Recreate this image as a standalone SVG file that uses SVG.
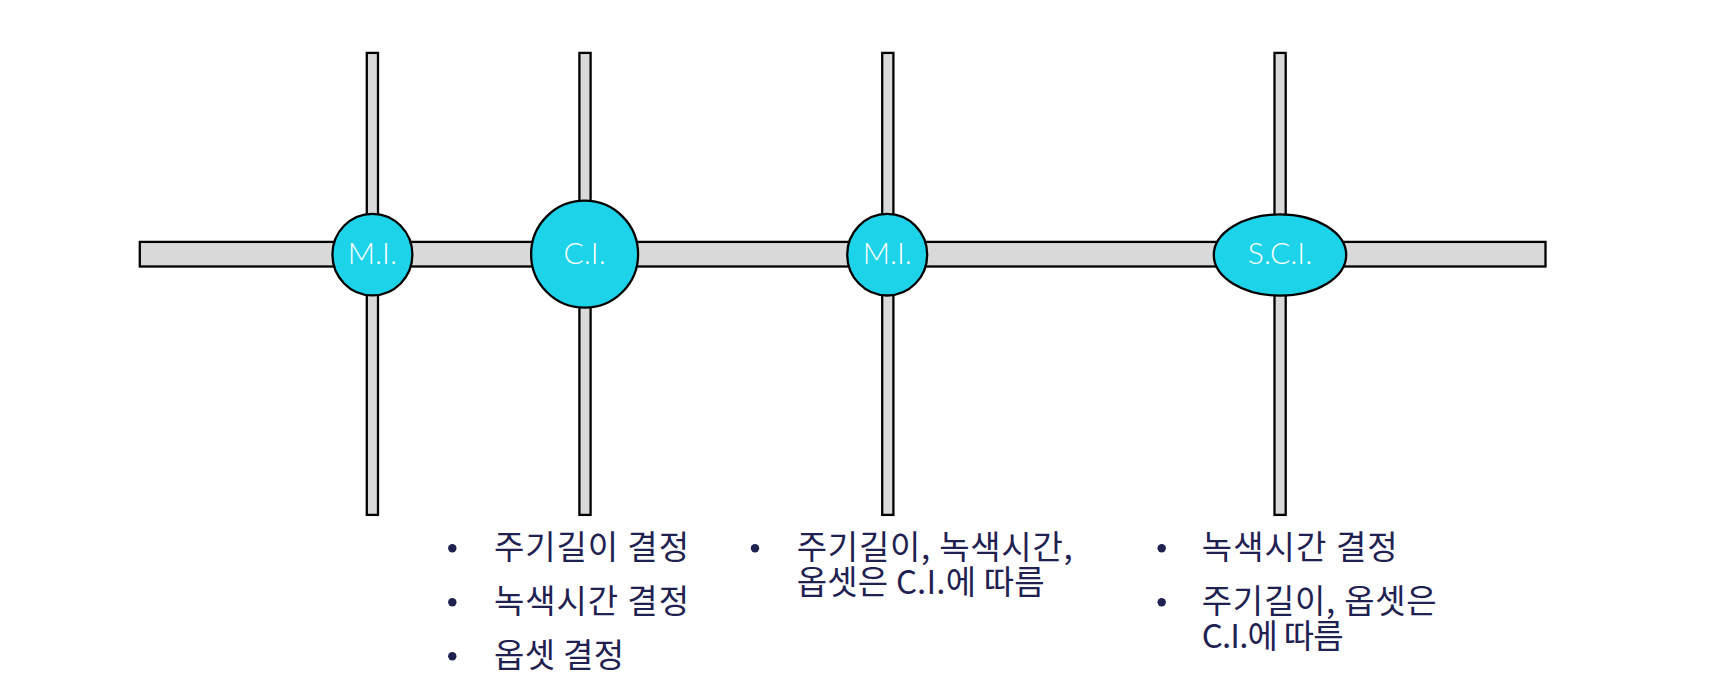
<svg xmlns="http://www.w3.org/2000/svg" width="1730" height="683" viewBox="0 0 1730 683">
  <style>
    .bar { fill: #d9d9d9; stroke: #000; stroke-width: 2.3; }
    .node { fill: #1dd3ea; stroke: #000; stroke-width: 2.3; }
    .lbl { fill: #ffffff; font-family: Lato, "Liberation Sans", sans-serif; font-size: 30px; font-weight: 300; text-anchor: middle; }
    .txt { fill: #1f2251; font-family: "Noto Sans CJK KR", "Noto Sans", sans-serif; font-size: 33px; }
    .dot { fill: #1f2251; }
  </style>
  <rect width="1730" height="683" fill="#ffffff"/>
  <g id="connectors">
    <rect class="bar" x="139.8" y="241.9" width="1405.7" height="24.6"/>
    <rect class="bar" x="366.8" y="52.9" width="11.2" height="462"/>
    <rect class="bar" x="579.4" y="52.9" width="11.2" height="462"/>
    <rect class="bar" x="882.2" y="52.9" width="11.2" height="462"/>
    <rect class="bar" x="1274.5" y="52.9" width="11.2" height="462"/>
  </g>
  <g id="node-mi1">
    <ellipse class="node" cx="372.4" cy="254.6" rx="40" ry="40.8"/>
    <text class="lbl" x="372.4" y="264">M.I.</text>
  </g>
  <g id="node-ci">
    <ellipse class="node" cx="584.6" cy="254.2" rx="53.5" ry="53.5"/>
    <text class="lbl" x="584.6" y="264">C.I.</text>
  </g>
  <g id="node-mi2">
    <ellipse class="node" cx="887.2" cy="254.7" rx="40" ry="40.8"/>
    <text class="lbl" x="887.2" y="264">M.I.</text>
  </g>
  <g id="node-sci">
    <ellipse class="node" cx="1280" cy="255" rx="66.2" ry="40.6"/>
    <text class="lbl" x="1280" y="264">S.C.I.</text>
  </g>
  <g id="notes-ci">
    <circle class="dot" cx="452.3" cy="548.3" r="4.2"/>
    <circle class="dot" cx="452.3" cy="602.3" r="4.2"/>
    <circle class="dot" cx="452.3" cy="656.3" r="4.2"/>
    <text class="txt" x="494" y="559" textLength="195" lengthAdjust="spacing">주기길이 결정</text>
    <text class="txt" x="494" y="613" textLength="195" lengthAdjust="spacing">녹색시간 결정</text>
    <text class="txt" x="494" y="667" textLength="130" lengthAdjust="spacing">옵셋 결정</text>
  </g>
  <g id="notes-mi">
    <circle class="dot" cx="755" cy="548.3" r="4.2"/>
    <text class="txt"><tspan x="796.7" y="559" textLength="276" lengthAdjust="spacing">주기길이, 녹색시간,</tspan><tspan x="796.7" y="593.5" textLength="248" lengthAdjust="spacing">옵셋은 C.I.에 따름</tspan></text>
  </g>
  <g id="notes-sci">
    <circle class="dot" cx="1161.7" cy="548.3" r="4.2"/>
    <circle class="dot" cx="1161.7" cy="602.3" r="4.2"/>
    <text class="txt" x="1201.7" y="559" textLength="196" lengthAdjust="spacing">녹색시간 결정</text>
    <text class="txt"><tspan x="1201.7" y="613" textLength="235" lengthAdjust="spacing">주기길이, 옵셋은</tspan><tspan x="1201.7" y="647.5" textLength="142" lengthAdjust="spacing">C.I.에 따름</tspan></text>
  </g>
</svg>
